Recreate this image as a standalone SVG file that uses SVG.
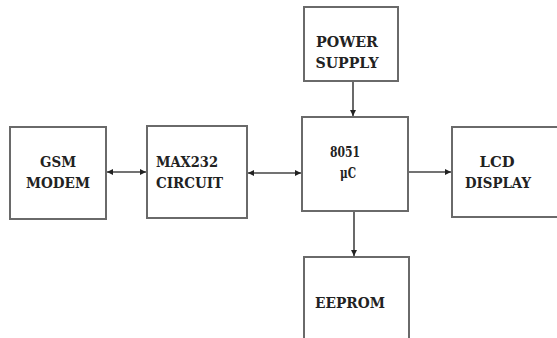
<svg xmlns="http://www.w3.org/2000/svg" width="557" height="338" viewBox="0 0 557 338">
<style>
.box{fill:#fff;stroke:#6a6a6a;stroke-width:2}
.t{font-family:"DejaVu Serif","Liberation Serif","Times New Roman",serif;font-weight:bold;font-size:15px;fill:#222}
.c{text-anchor:middle}
.ln{stroke:#444;stroke-width:1.6;fill:none}
</style>
<defs>
<marker id="ah" viewBox="0 0 10 10" refX="10" refY="5" markerWidth="4" markerHeight="4" orient="auto-start-reverse" markerUnits="strokeWidth">
<path d="M0,0 L10,5 L0,10 z" fill="#222"/>
</marker>
</defs>
<rect width="557" height="338" fill="#fff"/>
<g id="connectors">
<line class="ln" x1="107" y1="172" x2="146" y2="172" marker-start="url(#ah)" marker-end="url(#ah)"/>
<line class="ln" x1="248" y1="173" x2="301" y2="173" marker-start="url(#ah)" marker-end="url(#ah)"/>
<line class="ln" x1="409" y1="172" x2="451" y2="172" marker-end="url(#ah)"/>
<line class="ln" x1="353" y1="82" x2="353" y2="116" marker-end="url(#ah)"/>
<line class="ln" x1="354" y1="212" x2="354" y2="256" marker-end="url(#ah)"/>
</g>
<g id="gsm">
<rect class="box" x="10" y="127" width="96" height="92"/>
<text class="t c" x="58" y="167" textLength="36" lengthAdjust="spacingAndGlyphs">GSM</text>
<text class="t c" x="58" y="188" textLength="64" lengthAdjust="spacingAndGlyphs">MODEM</text>
</g>
<g id="max232">
<rect class="box" x="147" y="126" width="100" height="92"/>
<text class="t" x="156" y="167" textLength="62" lengthAdjust="spacingAndGlyphs">MAX232</text>
<text class="t" x="156" y="188" textLength="67" lengthAdjust="spacingAndGlyphs">CIRCUIT</text>
</g>
<g id="mcu">
<rect class="box" x="302" y="117" width="106" height="94"/>
<text class="t c" x="345" y="157" textLength="30" lengthAdjust="spacingAndGlyphs">8051</text>
<text class="t c" x="348" y="178" textLength="16" lengthAdjust="spacingAndGlyphs">μC</text>
</g>
<g id="power">
<rect class="box" x="304" y="7" width="94" height="74"/>
<text class="t c" x="347" y="47" textLength="62" lengthAdjust="spacingAndGlyphs">POWER</text>
<text class="t c" x="347" y="68" textLength="63" lengthAdjust="spacingAndGlyphs">SUPPLY</text>
</g>
<g id="lcd">
<rect class="box" x="452" y="127" width="110" height="90"/>
<text class="t c" x="497" y="167" textLength="35" lengthAdjust="spacingAndGlyphs">LCD</text>
<text class="t c" x="498" y="188" textLength="66" lengthAdjust="spacingAndGlyphs">DISPLAY</text>
</g>
<g id="eeprom">
<rect class="box" x="304" y="257" width="105" height="90"/>
<text class="t c" x="350" y="308" textLength="70" lengthAdjust="spacingAndGlyphs">EEPROM</text>
</g>
</svg>
